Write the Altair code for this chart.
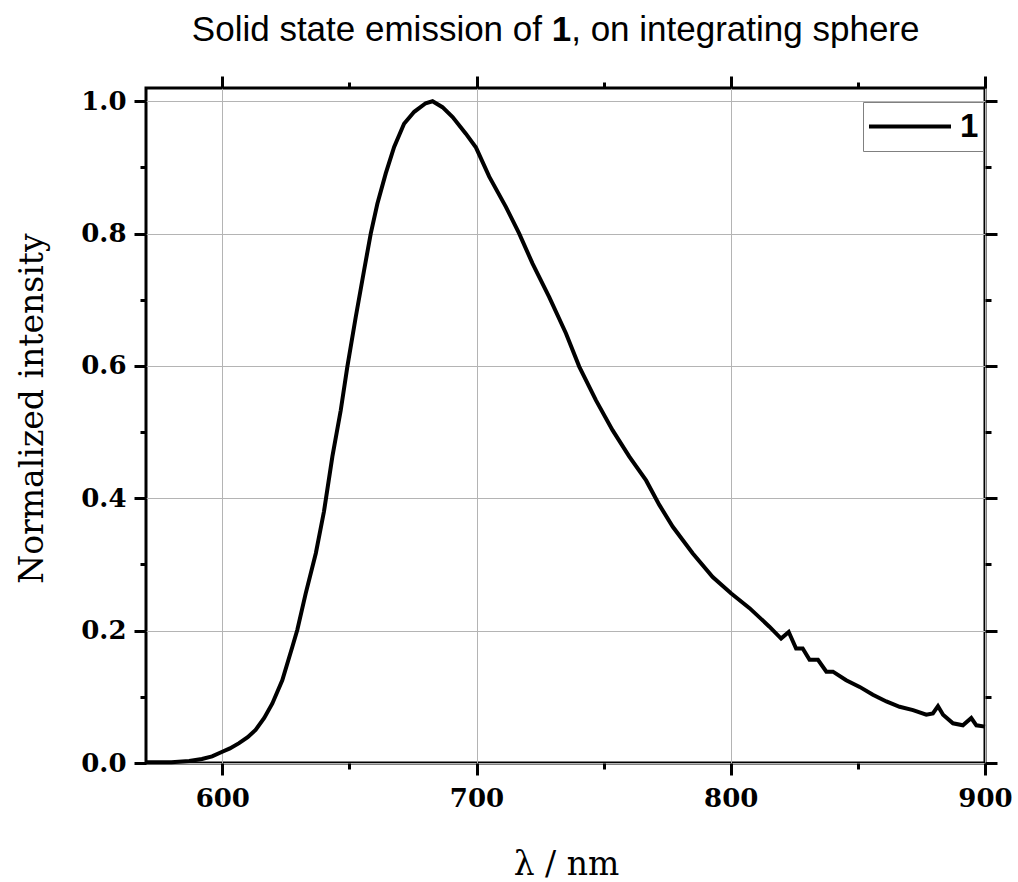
import altair as alt
import pandas as pd

# ---- data ----
wavelength = [570, 580, 587, 592, 596, 600, 603, 606.6, 610, 613.1, 616.5, 619.7, 623.6,
              627.6, 629.5, 632.8, 636.8, 640, 643.3, 646.6, 649.2, 652.5, 655.8, 658.4,
              661, 664.3, 667.6, 671.5, 675.5, 680, 682.7, 686.6, 690.6, 695.8, 699.8,
              705, 711.6, 716.8, 722, 728.6, 735.2, 740.4, 747, 753.5, 760.1, 766.7,
              771.9, 777.2, 785, 792.9, 800.2, 807.4, 815.2, 819.8, 822.8, 825.7, 828.3,
              831, 834.3, 837.6, 840.2, 845.4, 850.7, 855.9, 861.2, 866.4, 871.7, 876.9,
              879.5, 881.5, 883.5, 887.4, 891.3, 894.6, 896.6, 900]
intensity = [0.001, 0.001, 0.003, 0.006, 0.010, 0.017, 0.022, 0.030, 0.039, 0.050, 0.068,
             0.090, 0.125, 0.176, 0.201, 0.256, 0.317, 0.380, 0.463, 0.533, 0.599, 0.674,
             0.745, 0.800, 0.845, 0.891, 0.931, 0.966, 0.984, 0.997, 1.000, 0.991, 0.976,
             0.951, 0.930, 0.886, 0.840, 0.800, 0.755, 0.704, 0.649, 0.599, 0.548, 0.503,
             0.463, 0.427, 0.390, 0.357, 0.317, 0.281, 0.256, 0.234, 0.206, 0.188, 0.198,
             0.173, 0.173, 0.156, 0.156, 0.138, 0.138, 0.125, 0.115, 0.103, 0.093, 0.085,
             0.080, 0.073, 0.075, 0.086, 0.073, 0.060, 0.057, 0.068, 0.057, 0.055]
series = ["1"]
x_major = [600, 700, 800, 900]
x_minor = [650, 750, 850]
y_major = [0.0, 0.2, 0.4, 0.6, 0.8, 1.0]
y_minor = [0.1, 0.3, 0.5, 0.7, 0.9]
title_parts = ["Solid state emission of", "1", ", on integrating sphere"]
x_title = "λ / nm"
y_title = "Normalized intensity"

df = pd.DataFrame({"wl": wavelength, "I": intensity, "s": series[0]})

W, H = 839, 675
XD = [570, 900]
YD = [0, 1.02]
SERIF = "DejaVu Serif"
SANS = "Liberation Sans"
TFS = 35


def xs(axis):
    return alt.X("wl:Q", scale=alt.Scale(domain=XD, nice=False, zero=False), axis=axis)


def ys(axis):
    return alt.Y("I:Q", scale=alt.Scale(domain=YD, nice=False, zero=False), axis=axis)


def tick_axis(orient, values, size):
    return alt.Axis(orient=orient, values=values, tickSize=size, tickWidth=3,
                    tickColor="black", labels=False, grid=False, domain=False, title=None)


main = alt.Chart(df).mark_line(strokeWidth=4).encode(
    x=xs(alt.Axis(orient="bottom", values=x_major, format="d", tickSize=12, tickWidth=3,
                  tickColor="black", domain=False, grid=True, gridColor="#b4b4b4",
                  gridWidth=1, labelFont=SERIF, labelFontWeight="bold", labelFontSize=26,
                  labelColor="black", labelPadding=10, labelFlush=False,
                  title=x_title, titleFont=SERIF, titleFontSize=33,
                  titleFontWeight="normal", titleColor="black", titleX=420, titleY=111,
                  titleAlign="center", titleBaseline="alphabetic")),
    y=ys(alt.Axis(orient="left", values=y_major, format=".1f", tickSize=12, tickWidth=3,
                  tickColor="black", domain=False, grid=True, gridColor="#b4b4b4",
                  gridWidth=1, labelFont=SERIF, labelFontWeight="bold", labelFontSize=26,
                  labelColor="black", labelPadding=8,
                  title=y_title, titleFont=SERIF, titleFontSize=33,
                  titleFontWeight="normal", titleColor="black", titleAngle=-90,
                  titleX=-104, titleY=320, titleAlign="center",
                  titleBaseline="alphabetic")),
    color=alt.Color("s:N", scale=alt.Scale(range=["black"]),
                    legend=alt.Legend(title=None, orient="none", legendX=717, legendY=14,
                                      symbolType="stroke", symbolSize=6724,
                                      symbolStrokeWidth=4, labelFont=SANS,
                                      labelFontWeight="bold", labelFontSize=33,
                                      labelColor="black", labelOffset=7, padding=4,
                                      clipHeight=41,
                                      strokeColor="#808080", fillColor="white")),
)

major_tr = alt.Chart(df).mark_line(opacity=0).encode(
    x=xs(tick_axis("top", x_major, 12)), y=ys(tick_axis("right", y_major, 12)))
minor_bl = alt.Chart(df).mark_line(opacity=0).encode(
    x=xs(tick_axis("bottom", x_minor, 6)), y=ys(tick_axis("left", y_minor, 6)))
minor_tr = alt.Chart(df).mark_line(opacity=0).encode(
    x=xs(tick_axis("top", x_minor, 6)), y=ys(tick_axis("right", y_minor, 6)))

t1 = alt.Chart(pd.DataFrame({"t": [title_parts[0]]})).mark_text(
    font=SANS, fontSize=TFS, align="right", baseline="alphabetic", color="black"
).encode(text="t:N", x=alt.value(396), y=alt.value(-47))
t2 = alt.Chart(pd.DataFrame({"t": [title_parts[1]]})).mark_text(
    font=SANS, fontSize=TFS, fontWeight="bold", align="left", baseline="alphabetic",
    color="black"
).encode(text="t:N", x=alt.value(405.7), y=alt.value(-47))
t3 = alt.Chart(pd.DataFrame({"t": [title_parts[2]]})).mark_text(
    font=SANS, fontSize=TFS, align="left", baseline="alphabetic", color="black"
).encode(text="t:N", x=alt.value(425.2), y=alt.value(-47))

chart = alt.layer(main, major_tr, minor_bl, minor_tr, t1, t2, t3).resolve_scale(
    x="independent", y="independent"
).properties(
    width=W, height=H,
    padding={"left": 146, "top": 88, "right": 33, "bottom": 119},
    autosize=alt.AutoSizeParams(type="none"),
).configure_view(stroke="black", strokeWidth=3)

chart.save("out.html", embed_options={"renderer": "svg", "actions": False})
